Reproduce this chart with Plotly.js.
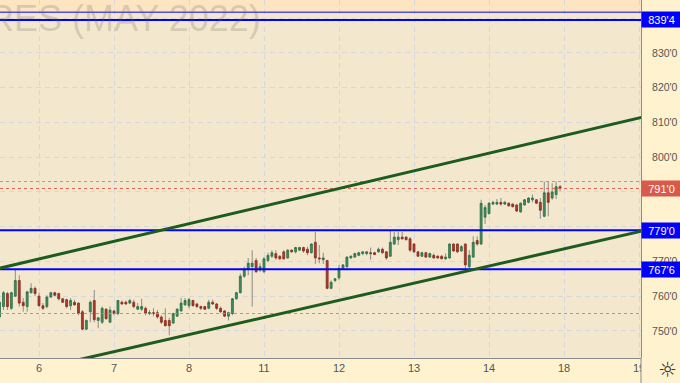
<!DOCTYPE html>
<html>
<head>
<meta charset="utf-8">
<script src="https://cdn.plot.ly/plotly-3.0.1.min.js"></script>
<style>
  html, body { margin: 0; padding: 0; background: #fef2cf; }
  #chart { width: 680px; height: 383px; }
</style>
</head>
<body>
<div id="chart"></div>
<script>
// ---- Data (hourly candles, index 0 = start of session "6") ----
const firstIndex = -10;
const open = [
754.0, 757.0, 760.75, 756.5, 760.0, 764.5, 758.25, 757.0, 761.0, 762.25,
760.0, 757.25, 757.0, 759.75, 761.0, 760.75, 759.25, 759.0, 757.25, 758.25,
758.0, 755.5, 750.5, 755.5, 758.75, 753.0, 752.5, 756.25, 752.5,
755.75, 755.0, 758.25, 758.25, 758.0, 758.25, 756.25, 756.25, 756.5, 755.0,
755.25, 755.25, 754.0, 753.0, 753.0, 752.25, 754.25, 755.75, 757.5,
757.25, 758.75, 757.75, 757.0, 757.0, 756.5, 758.25, 757.75, 756.5, 755.75,
754.25, 755.0, 759.25, 761.0, 765.75, 767.75, 768.5, 770.25, 767.5,
767.0, 770.25, 771.5, 772.25, 771.5, 772.75, 771.0, 773.25, 772.75, 773.25,
774.0, 773.5, 772.5, 775.5, 771.0, 770.5, 770.25, 762.25, 764.5,
765.25, 768.0, 768.5, 771.0, 771.25, 771.75, 772.25, 772.25, 772.5, 772.5,
772.75, 773.5, 772.75, 771.5, 775.0, 776.25, 777.0, 777.0, 776.5,
775.0, 772.75, 771.5, 772.5, 771.25, 771.75, 771.5, 771.5, 770.75, 771.0,
775.0, 775.0, 773.0, 775.0, 768.5, 771.25, 776.0, 775.0, 782.75,
783.75, 786.5, 786.5, 787.0, 786.5, 786.75, 786.5, 786.25, 784.25, 786.25,
787.0, 787.75, 787.75, 787.0, 783.0, 789.75, 788.25, 789.25, 791.5
];
const high = [
759.5, 761.5, 761.25, 761.25, 767.75, 766.0, 759.5, 761.5, 763.75, 762.75,
761.0, 758.0, 760.25, 761.25, 761.25, 761.0, 759.5, 759.25, 759.5, 759.0,
758.25, 756.0, 753.25, 758.75, 761.75, 754.0, 757.0, 756.5, 757.0,
756.0, 759.0, 758.75, 758.75, 759.25, 759.0, 758.0, 759.25, 757.0, 756.0,
756.5, 756.0, 754.5, 756.5, 753.75, 755.25, 756.5, 759.5, 759.5,
759.5, 759.0, 758.0, 757.25, 757.25, 759.0, 759.0, 758.0, 757.0, 756.0,
755.5, 759.5, 761.25, 766.5, 768.5, 771.0, 773.25, 771.0, 769.5,
771.25, 772.5, 773.25, 773.25, 771.75, 773.25, 773.5, 773.5, 774.25, 774.25,
774.25, 774.25, 775.25, 778.5, 774.75, 772.5, 770.5, 764.5, 765.25,
769.0, 769.25, 771.5, 771.75, 772.5, 772.75, 773.0, 773.0, 774.0, 772.75,
774.0, 774.0, 773.0, 778.75, 778.5, 778.5, 778.5, 777.25, 777.0,
775.25, 773.0, 772.75, 772.75, 772.5, 772.25, 771.75, 771.75, 772.25, 775.25,
775.25, 775.25, 774.75, 775.25, 773.25, 777.25, 777.25, 787.75, 786.25,
787.0, 787.5, 788.0, 788.25, 787.5, 787.0, 786.75, 786.5, 787.0, 788.0,
788.5, 789.25, 788.0, 788.25, 793.0, 793.0, 792.5, 793.0, 792.0
];
const low = [
753.25, 756.0, 756.0, 756.0, 759.75, 757.0, 755.5, 755.5, 760.75, 760.0,
757.0, 756.0, 756.5, 759.5, 760.0, 758.75, 758.0, 756.5, 756.0, 757.25,
754.5, 750.25, 750.25, 752.5, 752.5, 750.75, 752.0, 753.25, 752.25,
754.5, 754.5, 757.5, 757.5, 757.75, 756.5, 756.0, 755.75, 754.5, 754.5,
754.25, 753.5, 752.0, 751.25, 748.75, 752.0, 754.0, 755.5, 757.25,
756.5, 757.0, 756.5, 756.0, 756.0, 756.25, 757.5, 756.0, 755.25, 754.0,
753.0, 754.5, 759.0, 760.75, 765.25, 766.0, 757.0, 766.75, 767.0,
766.75, 769.75, 771.0, 770.5, 770.5, 770.5, 770.75, 772.5, 772.25, 773.0,
772.5, 771.75, 772.25, 769.25, 769.5, 769.25, 762.0, 762.0, 764.0,
764.75, 767.75, 768.0, 770.75, 771.0, 771.5, 771.75, 771.75, 770.5, 771.75,
772.5, 772.25, 770.5, 771.25, 774.75, 774.75, 776.25, 776.0, 772.75,
772.5, 771.25, 771.25, 771.0, 771.0, 770.75, 770.75, 770.75, 770.5, 770.75,
772.75, 772.5, 772.75, 767.75, 767.5, 771.0, 774.5, 774.75, 780.75,
783.5, 786.25, 786.25, 786.0, 786.25, 785.75, 785.5, 784.25, 784.0, 786.0,
786.75, 787.0, 786.5, 782.25, 782.75, 783.0, 787.75, 788.0, 790.25
];
const close = [
758.25, 761.0, 757.0, 761.0, 764.5, 758.0, 757.25, 761.25, 762.25, 760.75,
757.25, 756.5, 759.75, 761.0, 760.25, 759.25, 758.25, 757.0, 758.75, 757.5,
755.0, 750.5, 753.0, 758.25, 753.25, 753.75, 756.5, 753.5, 756.0,
755.0, 758.75, 757.75, 757.75, 758.75, 757.0, 757.0, 757.0, 755.0, 755.25,
755.0, 754.0, 752.5, 751.5, 751.5, 755.0, 756.25, 758.0, 758.75,
759.0, 757.25, 757.0, 756.5, 756.25, 758.25, 757.75, 756.5, 755.5, 754.25,
755.25, 759.25, 761.0, 765.75, 767.75, 769.5, 769.5, 767.0, 768.5,
770.75, 771.75, 772.5, 771.0, 770.75, 770.75, 773.25, 772.75, 774.0, 774.0,
773.0, 772.5, 775.0, 771.0, 770.75, 771.0, 762.25, 764.0, 765.0,
768.0, 769.0, 771.25, 771.5, 772.25, 772.5, 772.75, 772.75, 772.25, 772.0,
773.5, 772.5, 771.0, 775.5, 777.0, 777.0, 776.5, 776.25, 773.25,
772.75, 771.5, 772.5, 771.25, 772.25, 771.0, 771.0, 770.75, 771.25, 775.0,
773.0, 772.75, 774.25, 769.0, 771.75, 775.5, 775.0, 786.75, 785.5,
786.75, 787.0, 787.0, 786.5, 787.0, 786.0, 785.75, 784.5, 786.75, 787.75,
788.25, 788.25, 786.75, 784.75, 789.75, 787.0, 790.0, 791.5, 791.0
];

// x-axis sessions
const dayLabels = ['6', '7', '8', '11', '12', '13', '14', '18', '19'];
const dayStart  = [0, 19, 38, 57, 76, 95, 114, 133, 152];

// horizontal levels (blue), with their labels
const levelValues = [839.5, 779.0, 767.75];
const levelLabels = ["839'4", "779'0", "767'6"];
const topThinLevel = 841.75;
const lastPrice = 791.0, lastPriceLabel = "791'0";
const dottedHigh = 793.0, dottedLow = 755.0;

// trend channel (x in candle index, y in price)
const upperChannel = { x: [-10, 153], y: [768.05, 811.55] };
const lowerChannel = { x: [-10, 153], y: [736.5, 778.8] };

// price axis (labels hidden behind the level boxes are left blank)
const priceTicks = [750, 760, 770, 780, 790, 800, 810, 820, 830, 840];
const priceTickText = ["750'0", "760'0", "770'0", "", "", "800'0", "810'0", "820'0", "830'0", ""];

// ---- build ----
const xs = open.map((_, i) => firstIndex + i);
const isUp = open.map((o, i) => close[i] >= o);
const bodyTop = open.map((o, i) => Math.max(o, close[i]) + (Math.abs(close[i] - o) < 0.2 ? 0.1 : 0));
const bodyBot = open.map((o, i) => Math.min(o, close[i]) - (Math.abs(close[i] - o) < 0.2 ? 0.1 : 0));
const wickLen = high.map((h, i) => h - low[i]);

const PLOT_BG = '#f3e7cd', PAPER_BG = '#fef2cf';
const BLUE = '#0000ff', GREEN = '#1e5c1e';

const traces = [
  // wicks (bars are drawn beneath the candle bodies)
  {
    type: 'bar', x: xs, y: wickLen, base: low, width: 0.26,
    marker: { color: '#8e8e8e', line: { width: 0 } },
    hoverinfo: 'skip', showlegend: false
  },
  // bodies
  {
    type: 'candlestick', x: xs, open: open, close: close, high: bodyTop, low: bodyBot,
    increasing: { line: { color: '#2f7047', width: 0.8 }, fillcolor: '#3f8c5c' },
    decreasing: { line: { color: '#8c2d21', width: 0.8 }, fillcolor: '#aa3b2c' },
    hoverinfo: 'skip', showlegend: false
  }
];

const shapes = [];
// top orange band
shapes.push({ type: 'rect', xref: 'paper', yref: 'y', x0: 0, x1: 1, y0: topThinLevel, y1: 850,
  fillcolor: '#fde5c2', line: { width: 0 }, layer: 'below' });
// dotted lines
[[dottedHigh, '#a39d92'], [dottedLow, '#a39d92'], [lastPrice, '#e2634f']].forEach(([v, c]) => {
  shapes.push({ type: 'line', xref: 'paper', yref: 'y', x0: 0, x1: 1, y0: v, y1: v,
    line: { color: c, width: 1, dash: 'dot' }, layer: 'above' });
});
// thin top line
shapes.push({ type: 'line', xref: 'paper', yref: 'y', x0: 0, x1: 1, y0: topThinLevel, y1: topThinLevel,
  line: { color: BLUE, width: 1 }, layer: 'above' });
// blue levels
levelValues.forEach(v => {
  shapes.push({ type: 'line', xref: 'paper', yref: 'y', x0: 0, x1: 1, y0: v, y1: v,
    line: { color: BLUE, width: 2 }, layer: 'above' });
});
// channel lines
[upperChannel, lowerChannel].forEach(ch => {
  shapes.push({ type: 'line', xref: 'x', yref: 'y', x0: ch.x[0], x1: ch.x[1], y0: ch.y[0], y1: ch.y[1],
    line: { color: GREEN, width: 3 }, layer: 'above' });
});
// bottom-right corner cover + axis line continuation
shapes.push({ type: 'rect', xref: 'paper', yref: 'paper', x0: 1, x1: 1.08, y0: -0.08, y1: 0,
  fillcolor: PAPER_BG, line: { width: 0 }, layer: 'above' });
shapes.push({ type: 'line', xref: 'paper', yref: 'paper', x0: 1, x1: 1, y0: 0, y1: -0.08,
  line: { color: '#8a8a8a', width: 1 }, layer: 'above' });

const annotations = [];
// watermark
annotations.push({ text: 'RES (MAY 2022)', xref: 'paper', yref: 'paper', x: 263 / 641, y: 1 - 18 / 358,
  xanchor: 'right', yanchor: 'middle', showarrow: false,
  font: { family: 'Liberation Sans, Arial, sans-serif', size: 36, color: 'rgba(105,95,85,0.22)' } });
// price labels
levelValues.forEach((v, i) => {
  annotations.push({ text: levelLabels[i], xref: 'paper', yref: 'y', x: 1, y: v, xanchor: 'left', yanchor: 'middle',
    showarrow: false, bgcolor: BLUE, width: 35, height: 11, borderpad: 2,
    font: { family: 'Liberation Sans, Arial, sans-serif', size: 11, color: '#ffffff' } });
});
annotations.push({ text: lastPriceLabel, xref: 'paper', yref: 'y', x: 1, y: lastPrice, xanchor: 'left', yanchor: 'middle',
  showarrow: false, bgcolor: '#d9594a', width: 35, height: 11, borderpad: 2,
  font: { family: 'Liberation Sans, Arial, sans-serif', size: 11, color: '#ffffff' } });
// settings icon
annotations.push({ text: '☼', xref: 'paper', yref: 'paper', x: 667 / 641, y: -12 / 358,
  xanchor: 'center', yanchor: 'middle', showarrow: false,
  font: { family: 'DejaVu Sans', size: 21, color: '#333333' } });

const layout = {
  width: 680, height: 383,
  margin: { l: 0, r: 39, t: 0, b: 25, pad: 0 },
  paper_bgcolor: PAPER_BG, plot_bgcolor: PLOT_BG,
  showlegend: false, hovermode: false, barmode: 'overlay',
  font: { family: 'Liberation Sans, Arial, sans-serif', size: 11, color: '#555555' },
  xaxis: {
    range: [-9.88, 152.5], tickmode: 'array', tickvals: dayStart, ticktext: dayLabels,
    showgrid: true, gridcolor: '#d5d6df', griddash: '5px,4px', gridwidth: 1,
    zeroline: false, showline: true, linecolor: '#8a8a8a', linewidth: 1,
    ticks: '', rangeslider: { visible: false }, fixedrange: true,
    tickfont: { size: 11, color: '#555555' }
  },
  yaxis: {
    range: [742.2, 845.25], side: 'right', tickmode: 'array', tickvals: priceTicks, ticktext: priceTickText,
    showgrid: true, gridcolor: '#d5d6df', griddash: '5px,4px', gridwidth: 1,
    zeroline: false, showline: true, linecolor: '#8a8a8a', linewidth: 1,
    ticks: '', ticklabelstandoff: 8, fixedrange: true,
    tickfont: { size: 10.5, color: '#555555' }
  },
  shapes: shapes,
  annotations: annotations
};

Plotly.newPlot('chart', traces, layout, { displayModeBar: false, staticPlot: true });
</script>
</body>
</html>
